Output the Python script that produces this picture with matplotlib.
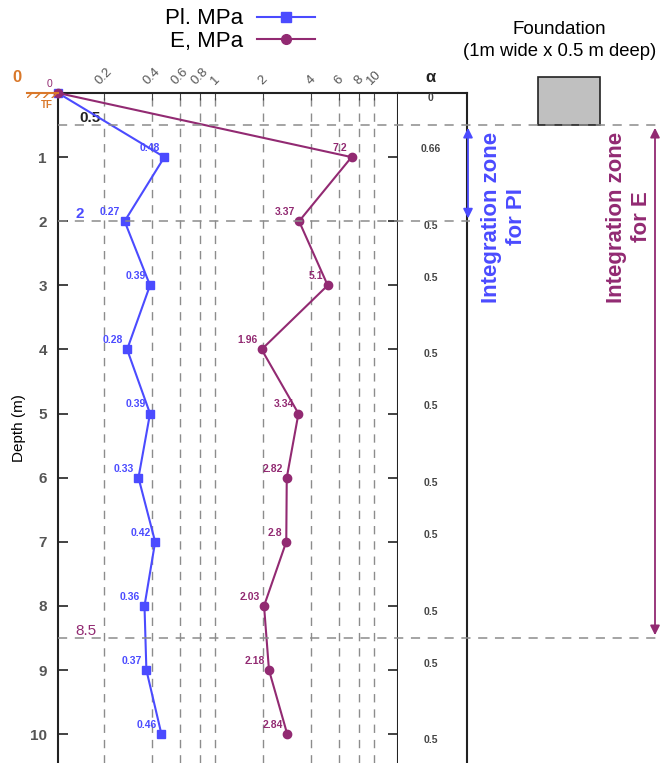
import numpy as np
import matplotlib
matplotlib.use("Agg")
import matplotlib.pyplot as plt
from matplotlib.lines import Line2D
from matplotlib.patches import Rectangle, FancyArrowPatch
from matplotlib.transforms import blended_transform_factory

plt.rcParams['font.family'] = ['Liberation Sans', 'DejaVu Sans']

# ---------------- data ----------------
depth = [0, 1, 2, 3, 4, 5, 6, 7, 8, 9, 10]
pl_values = [0, 0.48, 0.27, 0.39, 0.28, 0.39, 0.33, 0.42, 0.36, 0.37, 0.46]
e_values = [0, 7.2, 3.37, 5.1, 1.96, 3.34, 2.82, 2.8, 2.03, 2.18, 2.84]
alpha_values = ["0", "0.66", "0.5", "0.5", "0.5", "0.5", "0.5", "0.5", "0.5", "0.5", "0.5"]
alpha_depths = [0.08, 0.88, 2.07, 2.89, 4.07, 4.88, 6.08, 6.89, 8.1, 8.9, 10.09]
x_ticks = [0.2, 0.4, 0.6, 0.8, 1, 2, 4, 6, 8, 10]
x_tick_labels = ["0.2", "0.4", "0.6", "0.8", "1", "2", "4", "6", "8", "10"]
depth_ticks = [1, 2, 3, 4, 5, 6, 7, 8, 9, 10]
zone_lines = [0.5, 2, 8.5]
pl_zone = (0.5, 2)
e_zone = (0.5, 8.5)

BLUE = '#4b4bff'
PURPLE = '#922a72'
ORANGE = '#d9782a'
GRID = '#8c8c8c'

W, H = 660, 763
fig = plt.figure(figsize=(W / 100, H / 100), dpi=100)

XMIN, XMAX = 0.103, 14.1
YMAX = 10.45

ax = fig.add_axes([58 / W, 0, 340 / W, 1 - 93 / H])
ax.set_xscale('log')
ax.set_xlim(XMIN, XMAX)
ax.set_ylim(YMAX, 0)

def plot_vals(v):
    return [XMIN if x <= 0 else x for x in v]

# vertical grid
for t in x_ticks:
    ax.axvline(t, color=GRID, lw=1, ls=(0, (6, 5)), zorder=1)

ax.plot(plot_vals(pl_values), depth, color=BLUE, lw=1.5, marker='s', ms=6,
        mfc=BLUE, mec=BLUE, zorder=4, clip_on=False)
ax.plot(plot_vals(e_values), depth, color=PURPLE, lw=1.5, marker='o', ms=6,
        mfc=PURPLE, mec=PURPLE, zorder=4, clip_on=False)

for d, v in zip(depth[1:], pl_values[1:]):
    ax.annotate(f"{v:g}", (v, d), xytext=(-3, 3), textcoords='offset points',
                ha='right', va='bottom', fontsize=7.5, fontweight='bold', color=BLUE)
for d, v in zip(depth[1:], e_values[1:]):
    ax.annotate(f"{v:g}", (v, d), xytext=(-3, 3), textcoords='offset points',
                ha='right', va='bottom', fontsize=7.5, fontweight='bold', color=PURPLE)
ax.annotate("0", (XMIN, 0), xytext=(-6, 3), textcoords='offset points',
            ha='center', va='bottom', fontsize=7.5, color=PURPLE, annotation_clip=False)

# axes styling
ax.xaxis.tick_top()
ax.set_xticks(x_ticks)
ax.set_xticklabels(x_tick_labels, rotation=45, ha='center', va='bottom',
                   fontsize=9.5, color='#555')
ax.xaxis.set_minor_locator(matplotlib.ticker.NullLocator())
ax.tick_params(axis='x', which='major', direction='in', length=5, color='#444', pad=4)
ax.set_yticks(depth_ticks)
ax.set_yticklabels([str(t) for t in depth_ticks], fontsize=11, color='#555',
                   fontweight='bold')
ax.tick_params(axis='y', direction='in', length=7, width=1.2, left=True, right=True,
               color='#222', pad=8)
for s in ['left', 'right', 'top']:
    ax.spines[s].set_linewidth(1.5)
    ax.spines[s].set_color('#222')
ax.spines['bottom'].set_visible(False)
ax.set_ylabel("Depth (m)", fontsize=11)
ax.yaxis.set_label_coords(-0.095, 0.5)

# alpha column
ax2 = fig.add_axes([398 / W, 0, 69 / W, 1 - 93 / H], sharey=ax)
ax2.set_xlim(0, 1)
ax2.set_xticks([])
ax2.tick_params(axis='y', left=False, right=False, labelleft=False)
ax2.spines['bottom'].set_visible(False)
ax2.spines['left'].set_visible(False)
for s in ['right', 'top']:
    ax2.spines[s].set_linewidth(1.5)
    ax2.spines[s].set_color('#222')
for d, a in zip(alpha_depths, alpha_values):
    ax2.text(0.47, d, a, ha='center', va='center', fontsize=7.5, fontweight='bold', color='#444')
ax2.text(0.47, -0.12, "α", ha='center', va='bottom', fontsize=12, fontweight='bold', color='#222')

# horizontal zone lines (extend beyond the axes)
bt = blended_transform_factory(fig.transFigure, ax.transData)
right_ends = {0.5: 1.0, 2: 470 / W, 8.5: 1.0}
for d in zone_lines:
    fig.add_artist(Line2D([58 / W, right_ends[d]], [d, d], transform=bt, color=GRID,
                          lw=1.1, ls=(0, (6, 5)), zorder=2))

ax.text(0.14, 0.5, "0.5", fontsize=11, fontweight='bold', color='#222', ha='left', va='bottom')
ax.text(0.132, 2, "2", fontsize=11, fontweight='bold', color=BLUE, ha='left', va='bottom')
ax.text(0.132, 8.5, "8.5", fontsize=11, color=PURPLE, ha='left', va='bottom')

# ground surface symbol
fig.add_artist(Line2D([27 / W, 58 / W], [0, 0], transform=bt, color=ORANGE, lw=1.5))
fig.add_artist(Rectangle((27 / W, 0), 31 / W, 0.08, transform=bt, facecolor='none',
                         edgecolor=ORANGE, hatch='////', lw=0))
fig.text(12 / W, 1 - 78 / H, "0", color=ORANGE, fontsize=12, fontweight='bold',
         ha='left', va='center')
fig.text(47 / W, 1 - 105 / H, "TF", color=ORANGE, fontsize=7, fontweight='bold',
         ha='center', va='center')

# foundation
fig.add_artist(Rectangle((538 / W, -0.25), 62 / W, 0.75, transform=bt,
                         facecolor='#c0c0c0', edgecolor='#222', lw=1.2))
fig.text(559 / W, 1 - 29 / H, "Foundation", ha='center', va='center', fontsize=13.5)
fig.text(560 / W, 1 - 51 / H, "(1m wide x 0.5 m deep)", ha='center', va='center', fontsize=13.3)

# integration zone arrows
fig.add_artist(FancyArrowPatch((468 / W, pl_zone[0]), (468 / W, pl_zone[1]), transform=bt,
                               arrowstyle='<|-|>', mutation_scale=14, color=BLUE, lw=1.3))
fig.add_artist(FancyArrowPatch((655 / W, e_zone[0]), (655 / W, e_zone[1]), transform=bt,
                               arrowstyle='<|-|>', mutation_scale=14, color=PURPLE, lw=1.3))
fig.text(504 / W, 1 - 217 / H, "Integration zone\nfor PI", rotation=90, ha='center',
         va='center', fontsize=16, fontweight='bold', color=BLUE, linespacing=1.3)
fig.text(629 / W, 1 - 217 / H, "Integration zone\nfor E", rotation=90, ha='center',
         va='center', fontsize=16, fontweight='bold', color=PURPLE, linespacing=1.3)

# legend
handles = [Line2D([], [], color=BLUE, marker='s', ms=7, lw=1.5),
           Line2D([], [], color=PURPLE, marker='o', ms=7, lw=1.5)]
fig.legend(handles, ["Pl. MPa", "E, MPa"], loc='center', bbox_to_anchor=(240 / W, 1 - 30 / H),
           frameon=False, markerfirst=False, fontsize=16, handlelength=2.6,
           labelspacing=0.05, handletextpad=0.6, borderpad=0)

fig.savefig("out.png", dpi=100)
